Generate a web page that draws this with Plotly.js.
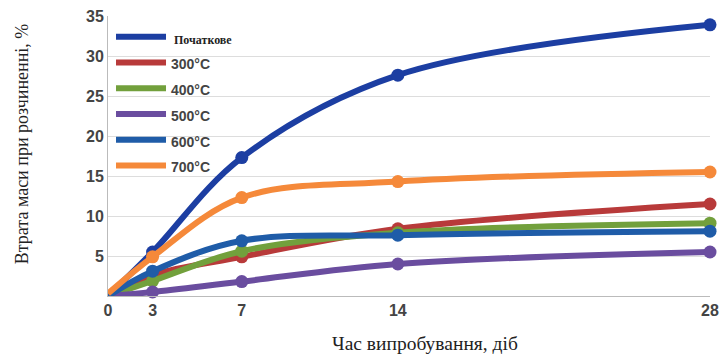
<!DOCTYPE html>
<html>
<head>
<meta charset="utf-8">
<script src="https://cdn.plot.ly/plotly-3.0.1.min.js"></script>
<style>html,body{margin:0;padding:0;background:#fff}#chart{width:724px;height:358px}</style>
</head>
<body>
<div id="chart"></div>
<script>
// Data (first point sits at the axis corner)
var days = [1, 3, 7, 14, 28];
var dayLabels = ['0', '3', '7', '14', '28'];
var seriesNames = ['Початкове', '300°C', '400°C', '500°C', '600°C', '700°C'];
var initial = [0, 5.5, 17.3, 27.6, 33.9];
var t300 = [0, 2.6, 4.9, 8.4, 11.5];
var t400 = [0, 1.9, 5.6, 7.9, 9.1];
var t500 = [0, 0.5, 1.8, 4.0, 5.5];
var t600 = [0, 3.1, 6.9, 7.6, 8.1];
var t700 = [0.3, 4.9, 12.3, 14.3, 15.5];
var yTicks = [5, 10, 15, 20, 25, 30, 35];

var seriesValues = [initial, t300, t400, t500, t600, t700];
var colors = ['#1c3ea2', '#b83a3a', '#72a03c', '#6a4d9f', '#1f5ca8', '#f5893a'];

var traces = [];
seriesValues.forEach(function (vals, i) {
  var label = i === 0
    ? '<span style="font-family:Liberation Serif;font-size:12px;font-weight:bold;color:#222"> ' + seriesNames[i] + '</span>'
    : '<span style="font-size:14px;font-weight:bold">' + seriesNames[i] + '</span>';
  traces.push({
    x: days, y: vals, type: 'scatter', mode: 'lines', name: label,
    line: {color: colors[i], width: 6, shape: 'spline', smoothing: 1},
    cliponaxis: false
  });
  traces.push({
    x: days.slice(1), y: vals.slice(1), type: 'scatter', mode: 'markers', showlegend: false,
    marker: {color: colors[i], size: 13},
    cliponaxis: false, hoverinfo: 'skip'
  });
});

var layout = {
  width: 724, height: 358,
  margin: {l: 108, r: 14, t: 16, b: 62},
  paper_bgcolor: '#fff', plot_bgcolor: '#fff',
  font: {family: 'Liberation Sans, Arial, sans-serif', color: '#444'},
  showlegend: true,
  legend: {
    x: 0.005, y: 0.99, xanchor: 'left', yanchor: 'top',
    bgcolor: 'rgba(0,0,0,0)', borderwidth: 0,
    itemwidth: 50,
    font: {size: 17.5, color: '#444', family: 'Liberation Sans, Arial, sans-serif'},
    tracegroupgap: 0
  },
  xaxis: {
    range: [1, 28], tickvals: days, ticktext: dayLabels,
    showgrid: false, zeroline: false, showline: true, linecolor: '#bbb', linewidth: 1,
    ticks: '', tickfont: {size: 16, color: '#444', family: 'Liberation Sans, Arial, sans-serif', weight: 'bold'}
  },
  yaxis: {
    range: [0, 35], tickvals: yTicks,
    showgrid: true, gridcolor: '#ddd', gridwidth: 1, zeroline: false,
    showline: true, linecolor: '#bbb', linewidth: 1, ticks: '',
    tickfont: {size: 16, color: '#444', family: 'Liberation Sans, Arial, sans-serif', weight: 'bold'}
  },
  annotations: [
    {text: 'Втрата маси при розчиненні, %', xref: 'paper', yref: 'paper', x: -0.143, y: 0.545,
     textangle: -90, showarrow: false, xanchor: 'center', yanchor: 'middle',
     font: {family: 'Liberation Serif, Times New Roman, serif', size: 18, color: '#222'}},
    {text: 'Час випробування, діб', xref: 'paper', yref: 'paper', x: 0.527, y: -0.168,
     showarrow: false, xanchor: 'center', yanchor: 'middle',
     font: {family: 'Liberation Serif, Times New Roman, serif', size: 19.5, color: '#222'}}
  ]
};

Plotly.newPlot('chart', traces, layout, {displayModeBar: false, staticPlot: true});
</script>
</body>
</html>
